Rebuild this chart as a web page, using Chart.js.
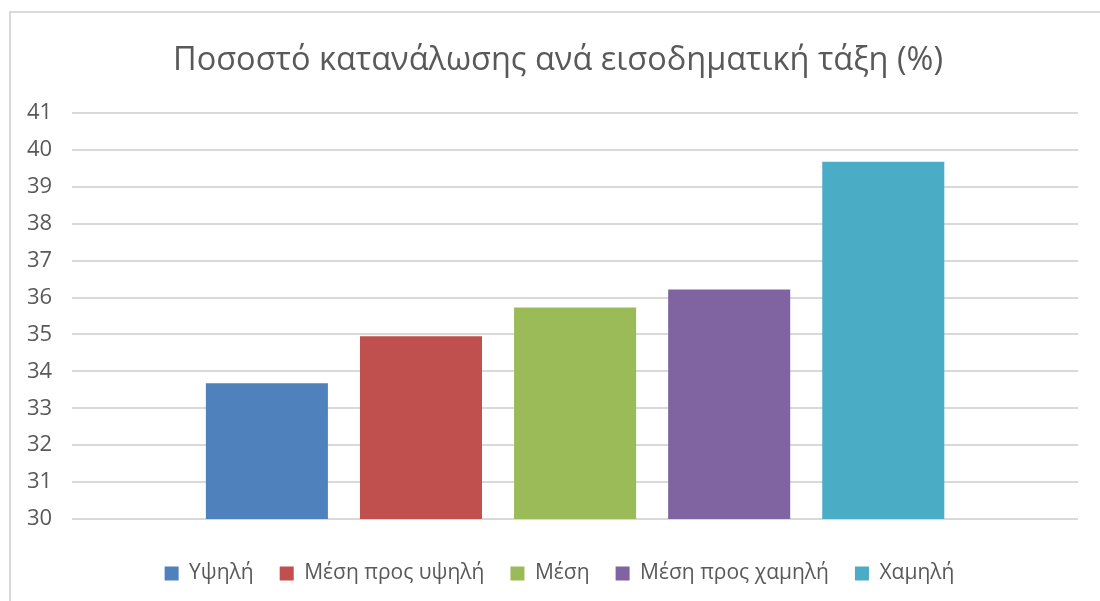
<!DOCTYPE html>
<html>
<head>
<meta charset="utf-8">
<script src="https://cdn.jsdelivr.net/npm/chart.js@4.4.0/dist/chart.umd.min.js"></script>
<style>
  body { margin: 0; background: #fff; }
  #wrap { position: relative; width: 1100px; height: 601px; overflow: hidden; }
  #frame { position: absolute; left: 9px; top: 11px; width: 1110px; height: 620px; border: 2px solid #d9d9d9; box-sizing: border-box; }
  canvas { position: absolute; left: 0; top: 0; }
</style>
</head>
<body>
<div id="wrap">
  <div id="frame"></div>
  <canvas id="myChart" width="1100" height="601"></canvas>
</div>
<script>
// data
const categories = ['Υψηλή', 'Μέση προς υψηλή', 'Μέση', 'Μέση προς χαμηλή', 'Χαμηλή'];
const values = [33.68, 34.95, 35.73, 36.22, 39.68];
const colors = ['#4f81bd', '#c0504d', '#9bbb59', '#8064a2', '#4bacc6'];
const yTicks = [30, 31, 32, 33, 34, 35, 36, 37, 38, 39, 40, 41];

const font = "'Open Sans', 'Noto Sans', sans-serif";
const grey = '#595959';

const datasets = categories.map((name, i) => ({
  label: name,
  data: [values[i]],
  backgroundColor: colors[i],
  borderWidth: 0,
  categoryPercentage: 0.766,
  barPercentage: 0.792
}));

// title and legend sit a bit right of the plot centre, like in the excel chart
const nudge = {
  id: 'nudge',
  afterLayout(chart) {
    chart.titleBlock.left += 31;
    chart.legend.left += 17;
    chart.legend.right += 17;
    chart.legend.top += 10;
    chart.legend.bottom += 10;
  }
};

const config = {
  type: 'bar',
  data: { labels: [''], datasets },
  options: {
    responsive: false,
    animation: false,
    layout: { padding: { left: 7, right: 22, top: 8, bottom: 17 } },
    plugins: {
      title: {
        display: true,
        text: 'Ποσοστό κατανάλωσης ανά εισοδηματική τάξη (%)',
        color: grey,
        font: { family: font, size: 32.5, weight: 'normal' },
        padding: { top: 33, bottom: 33 }
      },
      legend: {
        position: 'bottom',
        labels: {
          color: grey,
          font: { family: font, size: 21 },
          boxWidth: 14,
          boxHeight: 14,
          padding: 26
        }
      },
      tooltip: { enabled: false }
    },
    scales: {
      x: {
        grid: { display: false },
        border: { display: false },
        ticks: { display: false }
      },
      y: {
        min: yTicks[0],
        max: yTicks[yTicks.length - 1],
        afterBuildTicks: axis => { axis.ticks = yTicks.map(v => ({ value: v })); },
        grid: { color: '#d9d9d9', lineWidth: 2, drawTicks: false },
        border: { display: false },
        ticks: {
          color: grey,
          font: { family: font, size: 22 },
          padding: 20
        }
      }
    }
  },
  plugins: [nudge]
};

new Chart(document.getElementById('myChart'), config);
</script>
</body>
</html>
